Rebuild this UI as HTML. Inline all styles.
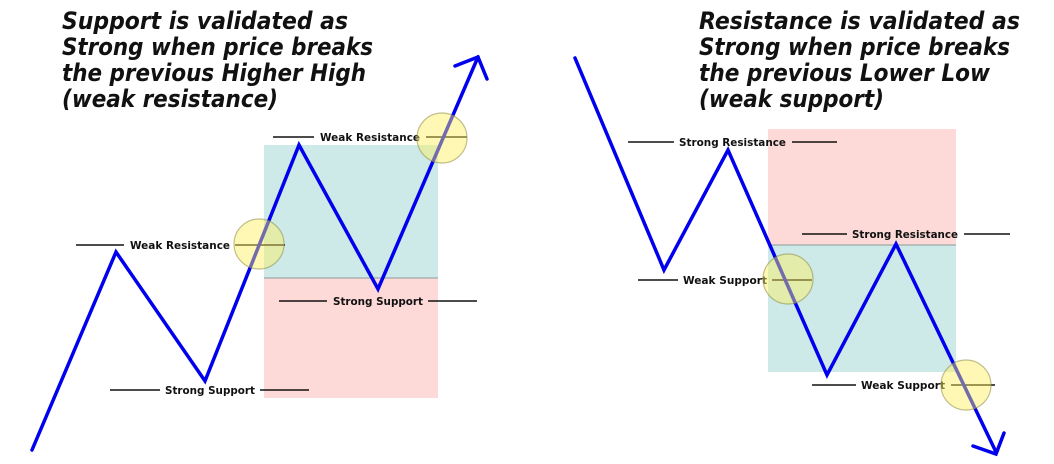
<!DOCTYPE html>
<html><head><style>
html,body{margin:0;padding:0;background:#fff;}
svg{display:block;}
.t{font-family:"DejaVu Sans","Liberation Sans",sans-serif;font-weight:bold;font-style:italic;font-size:24px;fill:#111;}
.l{font-family:"DejaVu Sans","Liberation Sans",sans-serif;font-weight:bold;font-size:11px;fill:#111;}
.h{stroke:#111;stroke-width:1.6;}
.c{fill:rgba(255,240,90,0.45);stroke:rgba(140,140,70,0.55);stroke-width:1.2;}
.b{fill:none;stroke:#0000ee;stroke-width:3.5;stroke-linejoin:miter;stroke-linecap:round;}
</style></head><body>
<svg width="1054" height="464" viewBox="0 0 1054 464" xmlns="http://www.w3.org/2000/svg">
<!-- left panel -->
<rect x="264" y="145" width="174" height="133" fill="#cdeae8"/>
<rect x="264" y="278" width="174" height="120" fill="#fdd9d8"/>
<line x1="264" y1="278" x2="438" y2="278" stroke="#8a9a9a" stroke-width="1"/>
<text class="t" x="62" y="29" textLength="286" lengthAdjust="spacingAndGlyphs">Support is validated as</text>
<text class="t" x="62" y="55" textLength="311" lengthAdjust="spacingAndGlyphs">Strong when price breaks</text>
<text class="t" x="62" y="81" textLength="304" lengthAdjust="spacingAndGlyphs">the previous Higher High</text>
<text class="t" x="62" y="107" textLength="216" lengthAdjust="spacingAndGlyphs">(weak resistance)</text>

<line class="h" x1="76" y1="245" x2="124" y2="245"/><text class="l" x="130" y="249" textLength="100" lengthAdjust="spacingAndGlyphs">Weak Resistance</text><line class="h" x1="235" y1="245" x2="285" y2="245"/>
<line class="h" x1="273" y1="137" x2="314" y2="137"/><text class="l" x="320" y="141" textLength="100" lengthAdjust="spacingAndGlyphs">Weak Resistance</text><line class="h" x1="426" y1="137" x2="467" y2="137"/>
<line class="h" x1="279" y1="301" x2="327" y2="301"/><text class="l" x="333" y="305" textLength="90" lengthAdjust="spacingAndGlyphs">Strong Support</text><line class="h" x1="428" y1="301" x2="477" y2="301"/>
<line class="h" x1="110" y1="390" x2="160" y2="390"/><text class="l" x="165" y="394" textLength="90" lengthAdjust="spacingAndGlyphs">Strong Support</text><line class="h" x1="260" y1="390" x2="309" y2="390"/>

<polyline class="b" points="32,450 116,252 205,381 299,145 378,289 478,57"/>
<polyline class="b" points="455,66 478,57 487,79"/>
<circle class="c" cx="259" cy="244" r="25"/>
<circle class="c" cx="442" cy="138" r="25"/>

<!-- right panel -->
<rect x="768" y="129" width="188" height="116" fill="#fdd9d8"/>
<rect x="768" y="245" width="188" height="127" fill="#cdeae8"/>
<line x1="768" y1="245" x2="956" y2="245" stroke="#8a9a9a" stroke-width="1"/>
<text class="t" x="699" y="29" textLength="321" lengthAdjust="spacingAndGlyphs">Resistance is validated as</text>
<text class="t" x="699" y="55" textLength="311" lengthAdjust="spacingAndGlyphs">Strong when price breaks</text>
<text class="t" x="699" y="81" textLength="291" lengthAdjust="spacingAndGlyphs">the previous Lower Low</text>
<text class="t" x="699" y="107" textLength="185" lengthAdjust="spacingAndGlyphs">(weak support)</text>

<line class="h" x1="628" y1="142" x2="674" y2="142"/><text class="l" x="679" y="146" textLength="107" lengthAdjust="spacingAndGlyphs">Strong Resistance</text><line class="h" x1="792" y1="142" x2="837" y2="142"/>
<line class="h" x1="802" y1="234" x2="847" y2="234"/><text class="l" x="852" y="238" textLength="106" lengthAdjust="spacingAndGlyphs">Strong Resistance</text><line class="h" x1="964" y1="234" x2="1010" y2="234"/>
<line class="h" x1="638" y1="280" x2="678" y2="280"/><text class="l" x="683" y="284" textLength="84" lengthAdjust="spacingAndGlyphs">Weak Support</text><line class="h" x1="772" y1="280" x2="812" y2="280"/>
<line class="h" x1="812" y1="385" x2="856" y2="385"/><text class="l" x="861" y="389" textLength="84" lengthAdjust="spacingAndGlyphs">Weak Support</text><line class="h" x1="951" y1="385" x2="995" y2="385"/>

<polyline class="b" points="575,58 664,270 728,150 827,375 896,244 996,452"/>
<polyline class="b" points="973,446 996,454 1004,433"/>
<circle class="c" cx="788" cy="279" r="25"/>
<circle class="c" cx="966" cy="385" r="25"/>
</svg>
</body></html>
